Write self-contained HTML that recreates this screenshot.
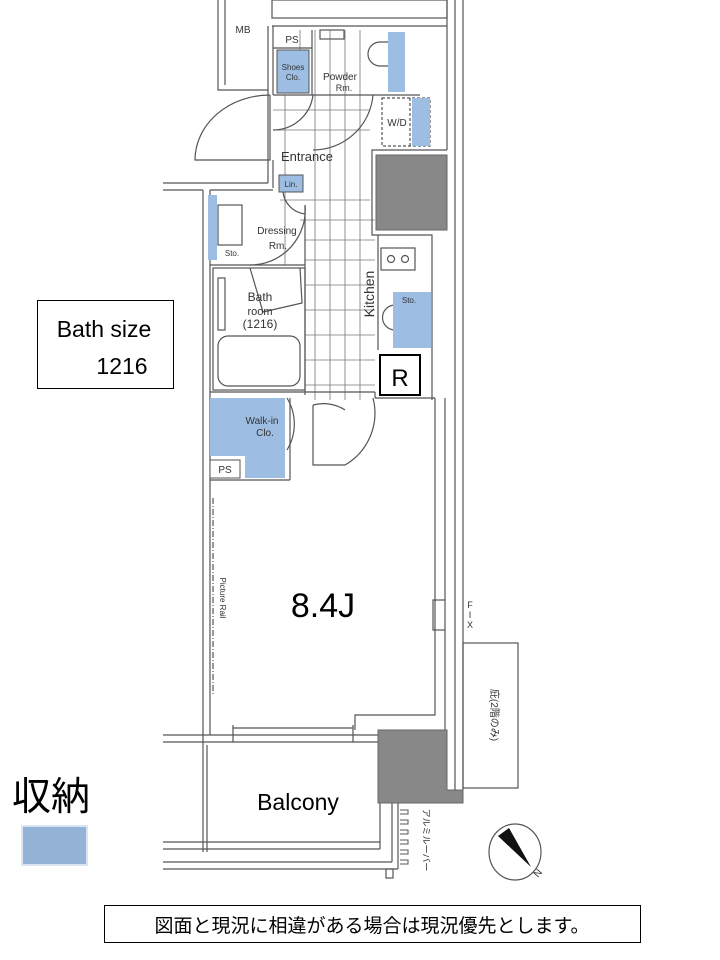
<!DOCTYPE html>
<html><head><meta charset="utf-8"><style>
html,body{margin:0;padding:0;background:#fff;}
svg{display:block;font-family:"Liberation Sans","Noto Sans CJK JP",sans-serif;}
</style></head><body>
<svg width="720" height="960" viewBox="0 0 720 960" xmlns="http://www.w3.org/2000/svg">
<g fill="none" stroke="#555" stroke-width="1.2">
<line x1="447" y1="0" x2="447" y2="150"/>
<line x1="455" y1="0" x2="455" y2="790"/>
<line x1="463" y1="0" x2="463" y2="790"/>
<rect x="272" y="0" width="175" height="18"/>
<line x1="272" y1="26" x2="447" y2="26"/>
<polyline points="218,0 218,90 268,90"/>
<line x1="225" y1="0" x2="225" y2="85"/>
<line x1="268" y1="26" x2="268" y2="183"/>
<line x1="273" y1="26" x2="273" y2="95"/>
<line x1="273" y1="160" x2="273" y2="188"/>
<line x1="163" y1="183" x2="268" y2="183"/>
<line x1="163" y1="190" x2="203" y2="190"/>
<line x1="210" y1="190" x2="273" y2="190"/>
<path d="M270,95 L270,160 L195,160 A75,65 0 0 1 270,95"/>
<line x1="203" y1="190" x2="203" y2="745"/>
<line x1="210" y1="190" x2="210" y2="735"/>
<g stroke="#777" stroke-width="0.8">
<line x1="315" y1="30" x2="315" y2="400"/><line x1="330" y1="30" x2="330" y2="400"/>
<line x1="345" y1="30" x2="345" y2="400"/><line x1="360" y1="30" x2="360" y2="400"/>
<line x1="300" y1="30" x2="300" y2="90"/><line x1="285" y1="95" x2="285" y2="265"/>
<line x1="273" y1="110" x2="370" y2="110"/><line x1="273" y1="130" x2="370" y2="130"/>
<line x1="280" y1="200" x2="370" y2="200"/><line x1="300" y1="220" x2="375" y2="220"/>
<line x1="305" y1="240" x2="375" y2="240"/><line x1="305" y1="260" x2="375" y2="260"/>
<line x1="305" y1="285" x2="375" y2="285"/><line x1="305" y1="310" x2="375" y2="310"/>
<line x1="305" y1="335" x2="375" y2="335"/><line x1="305" y1="360" x2="375" y2="360"/>
<line x1="305" y1="385" x2="375" y2="385"/>
</g>
<line x1="273" y1="95" x2="420" y2="95"/>
<line x1="273" y1="48" x2="312" y2="48"/>
<line x1="312" y1="30" x2="312" y2="95"/>
<rect x="320" y="30" width="24" height="9"/>
<path d="M390,42 L380,42 A12,12 0 0 0 380,66 L390,66 Z"/>
<rect x="382" y="98" width="48" height="48" stroke-dasharray="3,2"/>
<line x1="410" y1="98" x2="410" y2="146" stroke-dasharray="3,2"/>
<path d="M373,95 A60,60 0 0 1 313,150"/>
<path d="M313,95 A40,40 0 0 1 273,130"/>
<polyline points="447,150 372,150 372,235 432,235 432,400"/>
<line x1="378" y1="235" x2="378" y2="350"/>
<rect x="381" y="248" width="34" height="22"/>
<circle cx="391" cy="259" r="3.5"/><circle cx="405" cy="259" r="3.5"/>
<path d="M405,305 L395,305 A12,12 0 0 0 395,330 L405,330 Z"/>
<path d="M283,192 A25,25 0 0 0 305,214"/>
<path d="M305,205 A55,55 0 0 1 250,265"/>
<rect x="218" y="205" width="24" height="40"/>
<line x1="210" y1="265" x2="305" y2="265"/>
<line x1="305" y1="205" x2="305" y2="395"/>
<rect x="213" y="268" width="92" height="122"/>
<rect x="218" y="278" width="7" height="52"/>
<rect x="218" y="336" width="82" height="50" rx="10"/>
<path d="M250,268 L263,312 L302,303 L300,268"/>
<line x1="210" y1="392" x2="375" y2="392"/>
<line x1="375" y1="392" x2="375" y2="398"/>
<line x1="375" y1="398" x2="435" y2="398"/>
<line x1="210" y1="480" x2="290" y2="480"/>
<line x1="290" y1="398" x2="290" y2="480"/>
<path d="M287,398 A50,50 0 0 1 287,450"/>
<path d="M313,405 L313,465 L345,465 A60,60 0 0 0 373,398"/>
<path d="M313,405 A35,30 0 0 1 345,410"/>
<polyline points="435,398 435,600 433,600 433,630 435,630 435,715 355,715 355,730"/>
<line x1="445" y1="398" x2="445" y2="600"/><line x1="445" y1="630" x2="445" y2="733"/>
<rect x="435" y="600" width="10" height="30"/>
<line x1="213" y1="498" x2="213" y2="695" stroke-dasharray="6,2,1,2"/>
<line x1="163" y1="735" x2="378" y2="735"/>
<line x1="163" y1="742" x2="378" y2="742"/>
<line x1="233" y1="725" x2="233" y2="742"/>
<line x1="353" y1="725" x2="353" y2="742"/>
<line x1="233" y1="728" x2="353" y2="728"/>
<line x1="203" y1="745" x2="203" y2="852"/><line x1="207" y1="745" x2="207" y2="852"/>
<line x1="163" y1="842" x2="380" y2="842"/><line x1="163" y1="849" x2="380" y2="849"/>
<line x1="163" y1="862" x2="392" y2="862"/><line x1="163" y1="869" x2="398" y2="869"/>
<line x1="380" y1="803" x2="380" y2="849"/><line x1="392" y1="803" x2="392" y2="862"/><line x1="398" y1="803" x2="398" y2="869"/>
<rect x="386" y="869" width="7" height="9"/>
<g stroke-width="1">
<path d="M400,810 h8 v4 h-8 M400,820 h8 v4 h-8 M400,830 h8 v4 h-8 M400,840 h8 v4 h-8 M400,850 h8 v4 h-8 M400,860 h8 v4 h-8"/>
</g>
<rect x="463" y="643" width="55" height="145"/>
<ellipse cx="515" cy="852" rx="26" ry="28"/>
</g>
<g fill="#9dbde3" stroke="#555" stroke-width="1">
<rect x="277" y="50" width="32" height="43"/>
<rect x="388" y="32" width="17" height="60" stroke="none"/>
<rect x="412" y="98" width="18" height="48" stroke="none"/>
<rect x="208" y="195" width="9" height="65" stroke="none"/>
<rect x="279" y="175" width="24" height="17"/>
<rect x="393" y="292" width="38" height="56" stroke="none"/>
<rect x="210" y="398" width="75" height="58" stroke="none"/>
<rect x="245" y="456" width="40" height="22" stroke="none"/>
</g>
<rect x="210" y="460" width="30" height="18" fill="#fff" stroke="#555"/>
<rect x="376" y="155" width="71" height="75" fill="#888" stroke="#666"/>
<path d="M378,730 L447,730 L447,790 L463,790 L463,803 L378,803 Z" fill="#888" stroke="#666"/>
<path d="M498,836 L509,828 L531,867 Z" fill="#111"/>
<g fill="#333" font-size="10" text-anchor="middle">
<text x="243" y="33">MB</text>
<text x="292" y="43">PS</text>
<text x="293" y="70" font-size="8">Shoes</text><text x="293" y="80" font-size="8">Clo.</text>
<text x="340" y="80">Powder</text><text x="344" y="91" font-size="9">Rm.</text>
<text x="397" y="126">W/D</text>
<text x="307" y="161" font-size="13">Entrance</text>
<text x="291" y="187" font-size="8">Lin.</text>
<text x="277" y="234" font-size="10">Dressing</text><text x="278" y="249" font-size="10">Rm.</text>
<text x="232" y="256" font-size="8">Sto.</text>
<text x="260" y="301" font-size="12">Bath</text><text x="260" y="315" font-size="11">room</text><text x="260" y="328" font-size="12">(1216)</text>
<text x="262" y="424" font-size="10">Walk-in</text><text x="265" y="436" font-size="10">Clo.</text>
<text x="225" y="473" font-size="10">PS</text>
<text x="409" y="303" font-size="8">Sto.</text>
</g>
<text x="374" y="294" font-size="14" fill="#333" transform="rotate(-90 374 294)" text-anchor="middle">Kitchen</text>
<text x="220" y="598" font-size="8" fill="#333" transform="rotate(90 220 598)" text-anchor="middle">Picture Rail</text>
<text x="470" y="608" font-size="9" fill="#333" text-anchor="middle">F</text>
<text x="470" y="618" font-size="9" fill="#333" text-anchor="middle">I</text>
<text x="470" y="628" font-size="9" fill="#333" text-anchor="middle">X</text>
<text x="491" y="715" font-size="10" fill="#333" transform="rotate(90 491 715)" text-anchor="middle">庇(2階のみ)</text>
<text x="423" y="840" font-size="9" fill="#333" transform="rotate(90 423 840)" text-anchor="middle">アルミルーバー</text>
<text x="538" y="878" font-size="10" fill="#333" transform="rotate(-50 538 878)">N</text>
<rect x="380" y="355" width="40" height="40" fill="#fff" stroke="#000" stroke-width="2"/>
<text x="400" y="386" font-size="24" text-anchor="middle" fill="#000">R</text>
<text x="323" y="617" font-size="34" text-anchor="middle" fill="#000">8.4J</text>
<text x="298" y="810" font-size="23" text-anchor="middle" fill="#000">Balcony</text>
<rect x="37.5" y="300.5" width="136" height="88" fill="#fff" stroke="#000"/>
<text x="104" y="337" font-size="23" text-anchor="middle" fill="#000">Bath size</text>
<text x="122" y="374" font-size="23" text-anchor="middle" fill="#000">1216</text>
<text x="12" y="810" font-size="39" fill="#000">収納</text>
<rect x="22" y="826" width="65" height="39" fill="#95b3d7" stroke="#dbe5f1" stroke-width="2"/>
<rect x="104.5" y="905.5" width="536" height="37" fill="#fff" stroke="#000"/>
<text x="372" y="932" font-size="19" text-anchor="middle" fill="#000">図面と現況に相違がある場合は現況優先とします。</text>
</svg>
</body></html>
